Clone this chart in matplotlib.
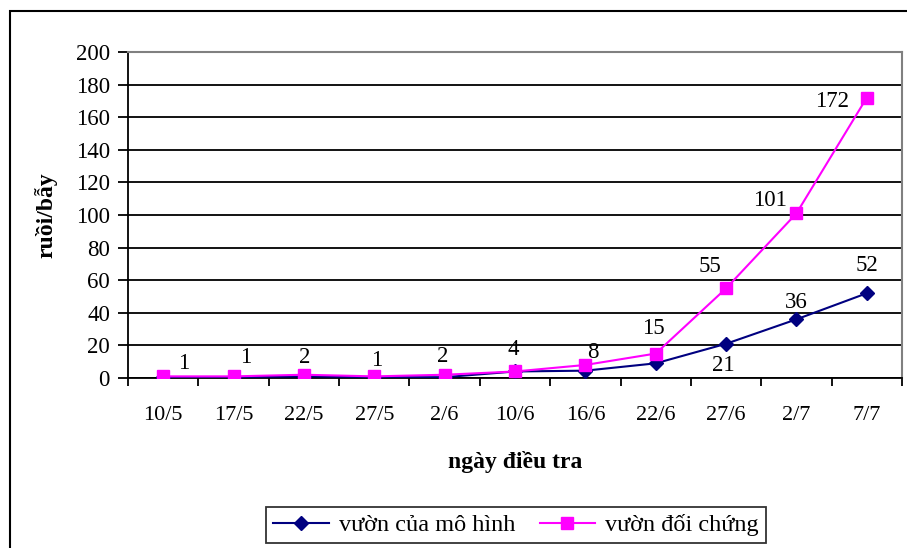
import numpy as np
import matplotlib.pyplot as plt
from matplotlib.patches import Rectangle

plt.rcParams["font.family"] = ["Liberation Serif", "DejaVu Serif"]
plt.rcParams["font.size"] = 16

dates = ["10/5", "17/5", "22/5", "27/5", "2/6", "10/6", "16/6", "22/6", "27/6", "2/7", "7/7"]
mo_hinh = [0.5, 0.5, 1, 0.5, 0.5, 4, 4.5, 9, 21, 36, 52]
doi_chung = [1, 1, 2, 1, 2, 4, 8, 15, 55, 101, 172]

# label text shown next to points, with hand-placed offsets (pixels)
doi_chung_labels = ["1", "1", "2", "1", "2", "4", "8", "15", "55", "101", "172"]
doi_chung_offsets = [(20, 13), (12, 19), (1, 17), (2, 16), (-2, 18), (-2, 22),
                     (8, 12), (-2, 25), (-16, 22), (-26, 13), (-35, -4)]
mo_hinh_labels = {8: "21", 9: "36", 10: "52"}
mo_hinh_offsets = {8: (-3, -22), 9: (0, 17), 10: (0, 28)}

fig = plt.figure(figsize=(9.07, 5.48), dpi=100)
ax = fig.add_axes([128 / 907, 170 / 548, 774 / 907, 326 / 548])

x = np.arange(len(dates))
ax.plot(x, mo_hinh, color="#000080", lw=1.5, marker="D", ms=7.5,
        label="vườn của mô hình", zorder=3)
ax.plot(x, doi_chung, color="#ff00ff", lw=1.5, marker="s", ms=9,
        label="vườn đối chứng", zorder=4)

for i, (v, t) in enumerate(zip(doi_chung, doi_chung_labels)):
    ax.annotate(t, (i, v), xytext=doi_chung_offsets[i], textcoords="offset pixels",
                ha="center", va="center", fontsize=16.5, zorder=5)
for i, t in mo_hinh_labels.items():
    ax.annotate(t, (i, mo_hinh[i]), xytext=mo_hinh_offsets[i], textcoords="offset pixels",
                ha="center", va="center", fontsize=16.5, zorder=5)

ax.set_xlim(-0.5, len(dates) - 0.5)
ax.set_ylim(0, 200)
ax.set_yticks(np.arange(0, 201, 20))

# category ticks at boundaries, labels at centers
ax.set_xticks(np.arange(-0.5, len(dates), 1.0))
ax.set_xticklabels([])
ax.set_xticks(x, minor=True)
ax.set_xticklabels(dates, minor=True)
ax.tick_params(axis="x", which="major", direction="out", length=6, width=1.3)
ax.tick_params(axis="x", which="minor", length=0, pad=20, labelsize=16)
ax.tick_params(axis="y", direction="out", length=7, width=1.3, labelsize=16.5, pad=6)

ax.set_axisbelow(True)
ax.yaxis.grid(True, color="black", lw=1.3)

ax.spines["left"].set_linewidth(1.3)
ax.spines["bottom"].set_linewidth(1.3)
ax.spines["top"].set_color("#808080")
ax.spines["right"].set_color("#808080")
ax.spines["top"].set_linewidth(1.5)
ax.spines["right"].set_linewidth(1.5)

ax.set_xlabel("ngày điều tra", fontweight="bold", fontsize=17, labelpad=19)
ax.set_ylabel("ruồi/bẫy", fontweight="bold", fontsize=17, labelpad=13)

leg = ax.legend(loc="center", bbox_to_anchor=(516 / 907, 23 / 548),
                bbox_transform=fig.transFigure, ncol=2, frameon=True,
                fancybox=False, edgecolor="black", handlelength=2.3,
                columnspacing=1.0, handletextpad=0.4, borderpad=0.3, fontsize=17.5)
leg.get_frame().set_linewidth(1.3)

# outer chart border (runs off the right/bottom of the picture)
fig.patches.append(Rectangle((10 / 907, -0.1), 1.2, (548 - 11) / 548 + 0.1,
                             transform=fig.transFigure, fill=False,
                             edgecolor="black", lw=1.5))

fig.savefig("out.png", dpi=100)
